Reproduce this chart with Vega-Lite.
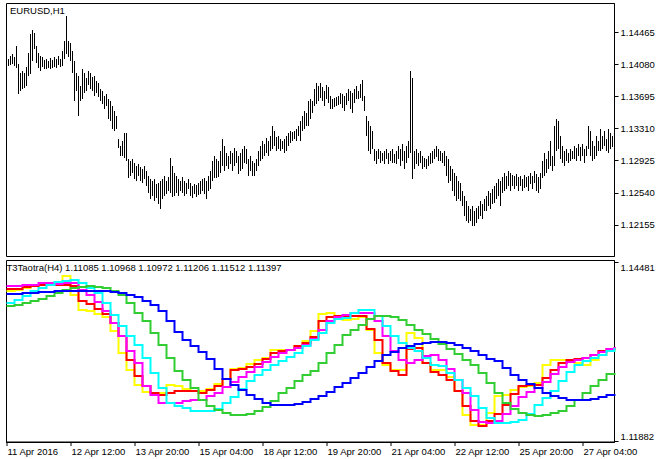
{
"$schema": "https://vega.github.io/schema/vega-lite/v6.json",
"padding": {"left": 2, "top": 2, "right": 0, "bottom": 0},
"background": "white",
"spacing": 2,
"config": {
  "view": {"stroke": "black", "strokeWidth": 1},
  "font": "Liberation Sans",
  "axis": {"labelFont": "Liberation Sans", "labelFontSize": 9.5, "labelColor": "black", "tickColor": "black", "domainColor": "black", "grid": false, "title": null, "tickSize": 4, "labelPadding": 2},
  "title": {"font": "Liberation Sans", "fontSize": 9.5, "fontWeight": "normal", "color": "black", "anchor": "start"}
},
"vconcat": [
{
  "width": 608, "height": 253,
  "title": {"text": "EURUSD,H1", "offset": -12, "dx": 4},
  "data": {"values": [
{"i":0,"h":1.14154,"l":1.14046},{"i":1,"h":1.14142,"l":1.14058},{"i":2,"h":1.14178,"l":1.1407},{"i":3,"h":1.14202,"l":1.14082},{"i":4,"h":1.14166,"l":1.14058},{"i":5,"h":1.14298,"l":1.14034},{"i":6,"h":1.14082,"l":1.13722},{"i":7,"h":1.13974,"l":1.13758},{"i":8,"h":1.13998,"l":1.13782},{"i":9,"h":1.13974,"l":1.13794},
{"i":10,"h":1.14046,"l":1.13818},{"i":11,"h":1.14214,"l":1.13938},{"i":12,"h":1.14442,"l":1.13962},{"i":13,"h":1.1449,"l":1.14118},{"i":14,"h":1.14454,"l":1.14262},{"i":15,"h":1.14298,"l":1.14094},{"i":16,"h":1.14214,"l":1.14034},{"i":17,"h":1.14178,"l":1.13998},{"i":18,"h":1.14166,"l":1.14046},{"i":19,"h":1.1413,"l":1.14022},
{"i":20,"h":1.14142,"l":1.14022},{"i":21,"h":1.14118,"l":1.14034},{"i":22,"h":1.14154,"l":1.14022},{"i":23,"h":1.1413,"l":1.14034},{"i":24,"h":1.14166,"l":1.14046},{"i":25,"h":1.14142,"l":1.14034},{"i":26,"h":1.14178,"l":1.1407},{"i":27,"h":1.14142,"l":1.14046},{"i":28,"h":1.14238,"l":1.14058},{"i":29,"h":1.14358,"l":1.14142},
{"i":30,"h":1.14658,"l":1.14202},{"i":31,"h":1.14358,"l":1.14166},{"i":32,"h":1.14334,"l":1.14118},{"i":33,"h":1.14238,"l":1.13974},{"i":34,"h":1.14118,"l":1.13638},{"i":35,"h":1.13974,"l":1.13758},{"i":36,"h":1.13938,"l":1.13458},{"i":37,"h":1.13818,"l":1.13638},{"i":38,"h":1.14022,"l":1.13662},{"i":39,"h":1.13974,"l":1.13734},
{"i":40,"h":1.13914,"l":1.13758},{"i":41,"h":1.13998,"l":1.1383},{"i":42,"h":1.13974,"l":1.13782},{"i":43,"h":1.13926,"l":1.13758},{"i":44,"h":1.13938,"l":1.13698},{"i":45,"h":1.13878,"l":1.13734},{"i":46,"h":1.13854,"l":1.13686},{"i":47,"h":1.13782,"l":1.13638},{"i":48,"h":1.13758,"l":1.13602},{"i":49,"h":1.13698,"l":1.13542},
{"i":50,"h":1.13722,"l":1.13578},{"i":51,"h":1.13662,"l":1.13422},{"i":52,"h":1.13638,"l":1.13398},{"i":53,"h":1.13578,"l":1.13302},{"i":54,"h":1.13518,"l":1.13278},{"i":55,"h":1.13458,"l":1.13302},{"i":56,"h":1.13182,"l":1.13074},{"i":57,"h":1.13098,"l":1.12978},{"i":58,"h":1.13158,"l":1.12978},{"i":59,"h":1.13254,"l":1.12954},
{"i":60,"h":1.13254,"l":1.12918},{"i":61,"h":1.12942,"l":1.12714},{"i":62,"h":1.12918,"l":1.12738},{"i":63,"h":1.12942,"l":1.12774},{"i":64,"h":1.12894,"l":1.12702},{"i":65,"h":1.12858,"l":1.12678},{"i":66,"h":1.12882,"l":1.12738},{"i":67,"h":1.12846,"l":1.12678},{"i":68,"h":1.12822,"l":1.12654},{"i":69,"h":1.12858,"l":1.12702},
{"i":70,"h":1.12798,"l":1.12618},{"i":71,"h":1.12738,"l":1.12534},{"i":72,"h":1.12702,"l":1.12462},{"i":73,"h":1.12678,"l":1.12498},{"i":74,"h":1.12702,"l":1.12438},{"i":75,"h":1.12642,"l":1.12474},{"i":76,"h":1.12654,"l":1.12402},{"i":77,"h":1.12678,"l":1.12342},{"i":78,"h":1.12702,"l":1.12462},{"i":79,"h":1.12738,"l":1.12498},
{"i":80,"h":1.12678,"l":1.12522},{"i":81,"h":1.12726,"l":1.12558},{"i":82,"h":1.12954,"l":1.12534},{"i":83,"h":1.12858,"l":1.12486},{"i":84,"h":1.12774,"l":1.12498},{"i":85,"h":1.12738,"l":1.12534},{"i":86,"h":1.12702,"l":1.12498},{"i":87,"h":1.12678,"l":1.12558},{"i":88,"h":1.12726,"l":1.12534},{"i":89,"h":1.12678,"l":1.12498},
{"i":90,"h":1.12654,"l":1.12522},{"i":91,"h":1.12702,"l":1.12582},{"i":92,"h":1.12654,"l":1.12498},{"i":93,"h":1.12618,"l":1.12474},{"i":94,"h":1.12642,"l":1.12522},{"i":95,"h":1.1263,"l":1.12486},{"i":96,"h":1.12654,"l":1.1251},{"i":97,"h":1.12678,"l":1.12522},{"i":98,"h":1.12702,"l":1.12558},{"i":99,"h":1.12714,"l":1.12522},
{"i":100,"h":1.12678,"l":1.12462},{"i":101,"h":1.12738,"l":1.12558},{"i":102,"h":1.12798,"l":1.12582},{"i":103,"h":1.12918,"l":1.12678},{"i":104,"h":1.12978,"l":1.12714},{"i":105,"h":1.12942,"l":1.12714},{"i":106,"h":1.12918,"l":1.12726},{"i":107,"h":1.13038,"l":1.12774},{"i":108,"h":1.13182,"l":1.12858},{"i":109,"h":1.13098,"l":1.12798},
{"i":110,"h":1.13014,"l":1.12858},{"i":111,"h":1.12978,"l":1.12822},{"i":112,"h":1.13038,"l":1.12882},{"i":113,"h":1.13014,"l":1.12798},{"i":114,"h":1.13074,"l":1.12858},{"i":115,"h":1.13038,"l":1.12894},{"i":116,"h":1.12978,"l":1.12762},{"i":117,"h":1.13014,"l":1.12798},{"i":118,"h":1.13062,"l":1.12822},{"i":119,"h":1.13098,"l":1.12894},
{"i":120,"h":1.13062,"l":1.12882},{"i":121,"h":1.12942,"l":1.12738},{"i":122,"h":1.12978,"l":1.12798},{"i":123,"h":1.12918,"l":1.12738},{"i":124,"h":1.12894,"l":1.12738},{"i":125,"h":1.12942,"l":1.12798},{"i":126,"h":1.13038,"l":1.12858},{"i":127,"h":1.13098,"l":1.12918},{"i":128,"h":1.13158,"l":1.12942},{"i":129,"h":1.13122,"l":1.12978},
{"i":130,"h":1.13194,"l":1.13014},{"i":131,"h":1.13158,"l":1.12978},{"i":132,"h":1.13218,"l":1.13038},{"i":133,"h":1.13338,"l":1.13062},{"i":134,"h":1.13278,"l":1.13098},{"i":135,"h":1.13206,"l":1.13038},{"i":136,"h":1.13218,"l":1.13062},{"i":137,"h":1.13182,"l":1.13038},{"i":138,"h":1.13158,"l":1.13062},{"i":139,"h":1.13182,"l":1.13014},
{"i":140,"h":1.13218,"l":1.13038},{"i":141,"h":1.13254,"l":1.13098},{"i":142,"h":1.13278,"l":1.13134},{"i":143,"h":1.13266,"l":1.13158},{"i":144,"h":1.13278,"l":1.13182},{"i":145,"h":1.13302,"l":1.13158},{"i":146,"h":1.13338,"l":1.13218},{"i":147,"h":1.13398,"l":1.13158},{"i":148,"h":1.13458,"l":1.13278},{"i":149,"h":1.13518,"l":1.13302},
{"i":150,"h":1.13494,"l":1.13338},{"i":151,"h":1.13638,"l":1.13338},{"i":152,"h":1.13662,"l":1.13422},{"i":153,"h":1.13638,"l":1.13494},{"i":154,"h":1.13782,"l":1.13578},{"i":155,"h":1.13854,"l":1.13602},{"i":156,"h":1.13818,"l":1.13638},{"i":157,"h":1.13854,"l":1.13674},{"i":158,"h":1.13806,"l":1.13638},{"i":159,"h":1.13758,"l":1.13578},
{"i":160,"h":1.1383,"l":1.13662},{"i":161,"h":1.13806,"l":1.13614},{"i":162,"h":1.13698,"l":1.13542},{"i":163,"h":1.13662,"l":1.13542},{"i":164,"h":1.13674,"l":1.13566},{"i":165,"h":1.13686,"l":1.13578},{"i":166,"h":1.13698,"l":1.1359},{"i":167,"h":1.13734,"l":1.13602},{"i":168,"h":1.13722,"l":1.13554},{"i":169,"h":1.13698,"l":1.13518},
{"i":170,"h":1.13734,"l":1.1359},{"i":171,"h":1.13782,"l":1.13638},{"i":172,"h":1.13758,"l":1.13542},{"i":173,"h":1.13734,"l":1.13494},{"i":174,"h":1.13782,"l":1.13614},{"i":175,"h":1.13818,"l":1.13662},{"i":176,"h":1.13758,"l":1.13662},{"i":177,"h":1.13842,"l":1.13674},{"i":178,"h":1.1389,"l":1.13638},{"i":179,"h":1.13698,"l":1.13518},
{"i":180,"h":1.13458,"l":1.13218},{"i":181,"h":1.13398,"l":1.13038},{"i":182,"h":1.13338,"l":1.13002},{"i":183,"h":1.13278,"l":1.13062},{"i":184,"h":1.13062,"l":1.12918},{"i":185,"h":1.13038,"l":1.12882},{"i":186,"h":1.13062,"l":1.12942},{"i":187,"h":1.13038,"l":1.12894},{"i":188,"h":1.13014,"l":1.12918},{"i":189,"h":1.13038,"l":1.12882},
{"i":190,"h":1.13062,"l":1.12942},{"i":191,"h":1.13014,"l":1.12882},{"i":192,"h":1.13038,"l":1.12918},{"i":193,"h":1.13062,"l":1.12894},{"i":194,"h":1.13002,"l":1.12894},{"i":195,"h":1.13038,"l":1.12882},{"i":196,"h":1.13098,"l":1.12942},{"i":197,"h":1.13062,"l":1.12858},{"i":198,"h":1.13122,"l":1.12918},{"i":199,"h":1.13038,"l":1.12822},
{"i":200,"h":1.13098,"l":1.12894},{"i":201,"h":1.13158,"l":1.12954},{"i":202,"h":1.13998,"l":1.13014},{"i":203,"h":1.13914,"l":1.12702},{"i":204,"h":1.13038,"l":1.12822},{"i":205,"h":1.13062,"l":1.12882},{"i":206,"h":1.13014,"l":1.12858},{"i":207,"h":1.13038,"l":1.12894},{"i":208,"h":1.12978,"l":1.12822},{"i":209,"h":1.12954,"l":1.12846},
{"i":210,"h":1.12942,"l":1.12822},{"i":211,"h":1.12978,"l":1.12858},{"i":212,"h":1.13014,"l":1.12882},{"i":213,"h":1.13038,"l":1.12894},{"i":214,"h":1.13062,"l":1.12942},{"i":215,"h":1.13098,"l":1.12966},{"i":216,"h":1.13062,"l":1.12918},{"i":217,"h":1.13038,"l":1.12918},{"i":218,"h":1.13014,"l":1.12894},{"i":219,"h":1.13038,"l":1.12858},
{"i":220,"h":1.12978,"l":1.12738},{"i":221,"h":1.12942,"l":1.12654},{"i":222,"h":1.12858,"l":1.12678},{"i":223,"h":1.12822,"l":1.12558},{"i":224,"h":1.12774,"l":1.12498},{"i":225,"h":1.12738,"l":1.12438},{"i":226,"h":1.12678,"l":1.12462},{"i":227,"h":1.12654,"l":1.12438},{"i":228,"h":1.12558,"l":1.12378},{"i":229,"h":1.12498,"l":1.12258},
{"i":230,"h":1.12438,"l":1.12198},{"i":231,"h":1.12378,"l":1.12174},{"i":232,"h":1.12342,"l":1.12198},{"i":233,"h":1.12378,"l":1.12138},{"i":234,"h":1.12318,"l":1.12138},{"i":235,"h":1.12354,"l":1.12174},{"i":236,"h":1.12378,"l":1.12222},{"i":237,"h":1.12438,"l":1.12258},{"i":238,"h":1.12402,"l":1.12222},{"i":239,"h":1.12462,"l":1.12318},
{"i":240,"h":1.12498,"l":1.12318},{"i":241,"h":1.12558,"l":1.12378},{"i":242,"h":1.12534,"l":1.12342},{"i":243,"h":1.12582,"l":1.12402},{"i":244,"h":1.12618,"l":1.12414},{"i":245,"h":1.12654,"l":1.12462},{"i":246,"h":1.12702,"l":1.12498},{"i":247,"h":1.12678,"l":1.12378},{"i":248,"h":1.12726,"l":1.12534},{"i":249,"h":1.12774,"l":1.12558},
{"i":250,"h":1.12738,"l":1.12582},{"i":251,"h":1.12798,"l":1.12618},{"i":252,"h":1.12774,"l":1.12558},{"i":253,"h":1.1275,"l":1.12618},{"i":254,"h":1.12738,"l":1.12582},{"i":255,"h":1.12762,"l":1.12618},{"i":256,"h":1.12726,"l":1.12558},{"i":257,"h":1.12738,"l":1.12618},{"i":258,"h":1.12702,"l":1.12558},{"i":259,"h":1.1275,"l":1.12594},
{"i":260,"h":1.12726,"l":1.12606},{"i":261,"h":1.12738,"l":1.12558},{"i":262,"h":1.12774,"l":1.12642},{"i":263,"h":1.12738,"l":1.12582},{"i":264,"h":1.12798,"l":1.12654},{"i":265,"h":1.12762,"l":1.12558},{"i":266,"h":1.12726,"l":1.12534},{"i":267,"h":1.12774,"l":1.12582},{"i":268,"h":1.12918,"l":1.12714},{"i":269,"h":1.13014,"l":1.12738},
{"i":270,"h":1.12942,"l":1.12774},{"i":271,"h":1.13038,"l":1.12822},{"i":272,"h":1.13158,"l":1.12858},{"i":273,"h":1.12978,"l":1.12798},{"i":274,"h":1.13338,"l":1.12858},{"i":275,"h":1.13422,"l":1.13038},{"i":276,"h":1.13398,"l":1.13062},{"i":277,"h":1.13218,"l":1.12942},{"i":278,"h":1.13098,"l":1.12894},{"i":279,"h":1.13038,"l":1.12858},
{"i":280,"h":1.13062,"l":1.12918},{"i":281,"h":1.13014,"l":1.12894},{"i":282,"h":1.13062,"l":1.12918},{"i":283,"h":1.13038,"l":1.12942},{"i":284,"h":1.13098,"l":1.12942},{"i":285,"h":1.13074,"l":1.12918},{"i":286,"h":1.13122,"l":1.12978},{"i":287,"h":1.13086,"l":1.12918},{"i":288,"h":1.13122,"l":1.12978},{"i":289,"h":1.13062,"l":1.12894},
{"i":290,"h":1.13098,"l":1.12978},{"i":291,"h":1.13338,"l":1.13062},{"i":292,"h":1.13278,"l":1.12978},{"i":293,"h":1.13158,"l":1.12918},{"i":294,"h":1.13098,"l":1.12942},{"i":295,"h":1.13218,"l":1.12978},{"i":296,"h":1.13158,"l":1.13038},{"i":297,"h":1.13302,"l":1.13038},{"i":298,"h":1.13218,"l":1.13062},{"i":299,"h":1.13278,"l":1.13098},
{"i":300,"h":1.13182,"l":1.13038},{"i":301,"h":1.13302,"l":1.13014},{"i":302,"h":1.13254,"l":1.13062},{"i":303,"h":1.13218,"l":1.13086}
  ]},
  "mark": {"type": "rule", "color": "black", "strokeWidth": 1},
  "encoding": {
    "x": {"field": "i", "type": "quantitative", "scale": {"domain": [-0.25, 303.75], "nice": false, "zero": false}, "axis": null},
    "y": {"field": "l", "type": "quantitative", "scale": {"domain": [1.11778, 1.14814], "nice": false, "zero": false},
          "axis": {"orient": "right", "values": [1.12155, 1.1254, 1.12925, 1.1331, 1.13695, 1.1408, 1.14465], "format": ".5f", "labelFlush": false}},
    "y2": {"field": "h"}
  }
},
{
  "width": 608, "height": 182,
  "title": {"text": "T3Taotra(H4) 1.11085 1.10968 1.10972 1.11206 1.11512 1.11397", "offset": -12, "dx": 4},
  "data": {"values": [
{"i":0,"Y":1.1406,"R":1.14089,"M":1.14133,"C":1.13886,"G":1.13843,"B":1.14017},
{"i":4,"Y":1.14075,"R":1.14089,"M":1.14133,"C":1.1393,"G":1.13857,"B":1.14017},
{"i":8,"Y":1.14104,"R":1.14118,"M":1.14147,"C":1.13988,"G":1.13886,"B":1.14031},
{"i":12,"Y":1.14133,"R":1.14133,"M":1.14147,"C":1.1406,"G":1.13915,"B":1.14031},
{"i":16,"Y":1.14147,"R":1.14147,"M":1.14176,"C":1.14104,"G":1.13944,"B":1.14046},
{"i":20,"Y":1.14147,"R":1.14147,"M":1.14176,"C":1.14147,"G":1.13988,"B":1.14046},
{"i":24,"Y":1.14147,"R":1.14147,"M":1.14162,"C":1.14191,"G":1.14031,"B":1.1406},
{"i":28,"Y":1.14278,"R":1.14147,"M":1.14176,"C":1.14205,"G":1.14075,"B":1.1406},
{"i":32,"Y":1.14002,"R":1.14133,"M":1.14176,"C":1.1422,"G":1.14104,"B":1.1406},
{"i":36,"Y":1.13785,"R":1.13915,"M":1.14075,"C":1.14176,"G":1.14118,"B":1.1406},
{"i":40,"Y":1.1377,"R":1.13872,"M":1.14002,"C":1.14104,"G":1.14133,"B":1.1406},
{"i":44,"Y":1.13727,"R":1.13799,"M":1.13901,"C":1.14031,"G":1.14118,"B":1.1406},
{"i":48,"Y":1.13683,"R":1.13727,"M":1.1377,"C":1.13886,"G":1.14104,"B":1.1406},
{"i":52,"Y":1.1348,"R":1.13596,"M":1.13596,"C":1.13712,"G":1.1406,"B":1.14046},
{"i":56,"Y":1.13161,"R":1.13408,"M":1.13408,"C":1.13553,"G":1.14002,"B":1.14031},
{"i":60,"Y":1.12915,"R":1.1306,"M":1.1319,"C":1.13408,"G":1.13886,"B":1.14002},
{"i":64,"Y":1.12697,"R":1.12828,"M":1.13016,"C":1.13277,"G":1.13741,"B":1.13973},
{"i":68,"Y":1.12596,"R":1.12683,"M":1.12683,"C":1.13089,"G":1.13625,"B":1.13915},
{"i":72,"Y":1.12581,"R":1.12581,"M":1.12552,"C":1.12871,"G":1.13451,"B":1.13857},
{"i":76,"Y":1.12581,"R":1.12552,"M":1.12436,"C":1.12654,"G":1.13277,"B":1.1377},
{"i":80,"Y":1.12697,"R":1.12581,"M":1.12436,"C":1.12436,"G":1.13089,"B":1.13625},
{"i":84,"Y":1.12683,"R":1.1261,"M":1.12436,"C":1.12393,"G":1.129,"B":1.13466},
{"i":88,"Y":1.12639,"R":1.1261,"M":1.12465,"C":1.12364,"G":1.1277,"B":1.1335},
{"i":92,"Y":1.1261,"R":1.1261,"M":1.1248,"C":1.1232,"G":1.12654,"B":1.13263},
{"i":96,"Y":1.1261,"R":1.12581,"M":1.1248,"C":1.1232,"G":1.1248,"B":1.13176},
{"i":100,"Y":1.12639,"R":1.12625,"M":1.12538,"C":1.1232,"G":1.12393,"B":1.13074},
{"i":104,"Y":1.12712,"R":1.12683,"M":1.12581,"C":1.12349,"G":1.12335,"B":1.12929},
{"i":108,"Y":1.12784,"R":1.12784,"M":1.12668,"C":1.12436,"G":1.12291,"B":1.12784},
{"i":112,"Y":1.12929,"R":1.12915,"M":1.12741,"C":1.12523,"G":1.12262,"B":1.12697},
{"i":116,"Y":1.12944,"R":1.12929,"M":1.12813,"C":1.12639,"G":1.12262,"B":1.12625},
{"i":120,"Y":1.13002,"R":1.12958,"M":1.12886,"C":1.12755,"G":1.12277,"B":1.12552},
{"i":124,"Y":1.1306,"R":1.13002,"M":1.12958,"C":1.12842,"G":1.1232,"B":1.12494},
{"i":128,"Y":1.13089,"R":1.13074,"M":1.13031,"C":1.12915,"G":1.12378,"B":1.12436},
{"i":132,"Y":1.13205,"R":1.13161,"M":1.13103,"C":1.12987,"G":1.12465,"B":1.12407},
{"i":136,"Y":1.13205,"R":1.1319,"M":1.13161,"C":1.13045,"G":1.12581,"B":1.12407},
{"i":140,"Y":1.13205,"R":1.13205,"M":1.13205,"C":1.13103,"G":1.12654,"B":1.12407},
{"i":144,"Y":1.13263,"R":1.13263,"M":1.13234,"C":1.13161,"G":1.12755,"B":1.12422},
{"i":148,"Y":1.13335,"R":1.13306,"M":1.13277,"C":1.13263,"G":1.12842,"B":1.12451},
{"i":152,"Y":1.1348,"R":1.13393,"M":1.13364,"C":1.1335,"G":1.129,"B":1.12494},
{"i":156,"Y":1.13727,"R":1.13625,"M":1.13495,"C":1.13451,"G":1.13016,"B":1.12538},
{"i":160,"Y":1.13741,"R":1.13683,"M":1.13625,"C":1.13596,"G":1.13161,"B":1.12596},
{"i":164,"Y":1.13698,"R":1.13698,"M":1.13683,"C":1.13654,"G":1.13277,"B":1.12668},
{"i":168,"Y":1.1364,"R":1.13698,"M":1.13712,"C":1.13669,"G":1.13422,"B":1.12726},
{"i":172,"Y":1.13654,"R":1.13698,"M":1.13741,"C":1.13741,"G":1.13495,"B":1.12799},
{"i":176,"Y":1.13683,"R":1.13698,"M":1.13741,"C":1.13785,"G":1.13567,"B":1.12871},
{"i":180,"Y":1.13495,"R":1.13509,"M":1.13741,"C":1.13785,"G":1.13654,"B":1.12958},
{"i":184,"Y":1.13161,"R":1.1335,"M":1.13625,"C":1.13698,"G":1.13698,"B":1.13045},
{"i":188,"Y":1.12987,"R":1.13016,"M":1.13408,"C":1.13553,"G":1.13698,"B":1.13132},
{"i":192,"Y":1.12915,"R":1.129,"M":1.1319,"C":1.13408,"G":1.13683,"B":1.13176},
{"i":196,"Y":1.12915,"R":1.12842,"M":1.1306,"C":1.13306,"G":1.1364,"B":1.13234},
{"i":200,"Y":1.13451,"R":1.13219,"M":1.13016,"C":1.13234,"G":1.13567,"B":1.13263},
{"i":204,"Y":1.13379,"R":1.13234,"M":1.1306,"C":1.1319,"G":1.13495,"B":1.13292},
{"i":208,"Y":1.13016,"R":1.13016,"M":1.13118,"C":1.13089,"G":1.13437,"B":1.13306},
{"i":212,"Y":1.12915,"R":1.12886,"M":1.13132,"C":1.12987,"G":1.13364,"B":1.13321},
{"i":216,"Y":1.12915,"R":1.12842,"M":1.1306,"C":1.12973,"G":1.13292,"B":1.13321},
{"i":220,"Y":1.12813,"R":1.1277,"M":1.12929,"C":1.12871,"G":1.13219,"B":1.13306},
{"i":224,"Y":1.1261,"R":1.1261,"M":1.1277,"C":1.1277,"G":1.13147,"B":1.13277},
{"i":228,"Y":1.12262,"R":1.12393,"M":1.12581,"C":1.12654,"G":1.1306,"B":1.13234},
{"i":232,"Y":1.12117,"R":1.12175,"M":1.12335,"C":1.12538,"G":1.12987,"B":1.1319},
{"i":236,"Y":1.12117,"R":1.12103,"M":1.12161,"C":1.12364,"G":1.12871,"B":1.13132},
{"i":240,"Y":1.12291,"R":1.12175,"M":1.12146,"C":1.12219,"G":1.12726,"B":1.13074},
{"i":244,"Y":1.12538,"R":1.12277,"M":1.12175,"C":1.12146,"G":1.12581,"B":1.13045},
{"i":248,"Y":1.12552,"R":1.12407,"M":1.12277,"C":1.12146,"G":1.12436,"B":1.12944},
{"i":252,"Y":1.12625,"R":1.12567,"M":1.12393,"C":1.12161,"G":1.12349,"B":1.12842},
{"i":256,"Y":1.12668,"R":1.12683,"M":1.12523,"C":1.1219,"G":1.12291,"B":1.1277},
{"i":260,"Y":1.12683,"R":1.12697,"M":1.12596,"C":1.12277,"G":1.12262,"B":1.12712},
{"i":264,"Y":1.12726,"R":1.12697,"M":1.12654,"C":1.12407,"G":1.12248,"B":1.12654},
{"i":268,"Y":1.12987,"R":1.12799,"M":1.12741,"C":1.12509,"G":1.12262,"B":1.12581},
{"i":272,"Y":1.1306,"R":1.12915,"M":1.12857,"C":1.1261,"G":1.12291,"B":1.12538},
{"i":276,"Y":1.1306,"R":1.13016,"M":1.12958,"C":1.12755,"G":1.1232,"B":1.12509},
{"i":280,"Y":1.1306,"R":1.1306,"M":1.13031,"C":1.12886,"G":1.12393,"B":1.1248},
{"i":284,"Y":1.13016,"R":1.13074,"M":1.1306,"C":1.12987,"G":1.1248,"B":1.1248},
{"i":288,"Y":1.12987,"R":1.13089,"M":1.13089,"C":1.13045,"G":1.12581,"B":1.1248},
{"i":292,"Y":1.1306,"R":1.13132,"M":1.13132,"C":1.13089,"G":1.12683,"B":1.12494},
{"i":296,"Y":1.13132,"R":1.1319,"M":1.13176,"C":1.13132,"G":1.1277,"B":1.12523},
{"i":300,"Y":1.1319,"R":1.13219,"M":1.13219,"C":1.1319,"G":1.12857,"B":1.12552},
{"i":304,"Y":1.13219,"R":1.13248,"M":1.13248,"C":1.13234,"G":1.12871,"B":1.12567}
  ]},
  "transform": [{"fold": ["Y", "R", "M", "C", "G", "B"], "as": ["s", "v"]}],
  "mark": {"type": "line", "interpolate": "step-after", "strokeWidth": 2},
  "encoding": {
    "x": {"field": "i", "type": "quantitative", "scale": {"domain": [-0.25, 303.75], "nice": false, "zero": false},
          "axis": {"values": [0, 32, 64, 96, 128, 160, 192, 224, 256, 288], "labelExpr": "['11 Apr 2016','12 Apr 12:00','13 Apr 20:00','15 Apr 04:00','18 Apr 12:00','19 Apr 20:00','21 Apr 04:00','22 Apr 12:00','25 Apr 20:00','27 Apr 04:00'][round(datum.value/32)]", "labelAlign": "left", "labelBaseline": "top", "labelFlush": false, "labelOffset": 1, "labelPadding": 1, "translate": 0}},
    "y": {"field": "v", "type": "quantitative", "scale": {"domain": [1.11871, 1.1451], "nice": false, "zero": false},
          "axis": {"orient": "right", "values": [1.11882, 1.14481], "format": ".5f", "labelFlush": 4}},
    "color": {"field": "s", "type": "nominal", "sort": ["Y", "R", "M", "C", "G", "B"], "scale": {"domain": ["Y", "R", "M", "C", "G", "B"], "range": ["#FFFF00", "#FF0000", "#FF00FF", "#00FFFF", "#32CD32", "#0000FF"]}, "legend": null}
  }
}
]
}
